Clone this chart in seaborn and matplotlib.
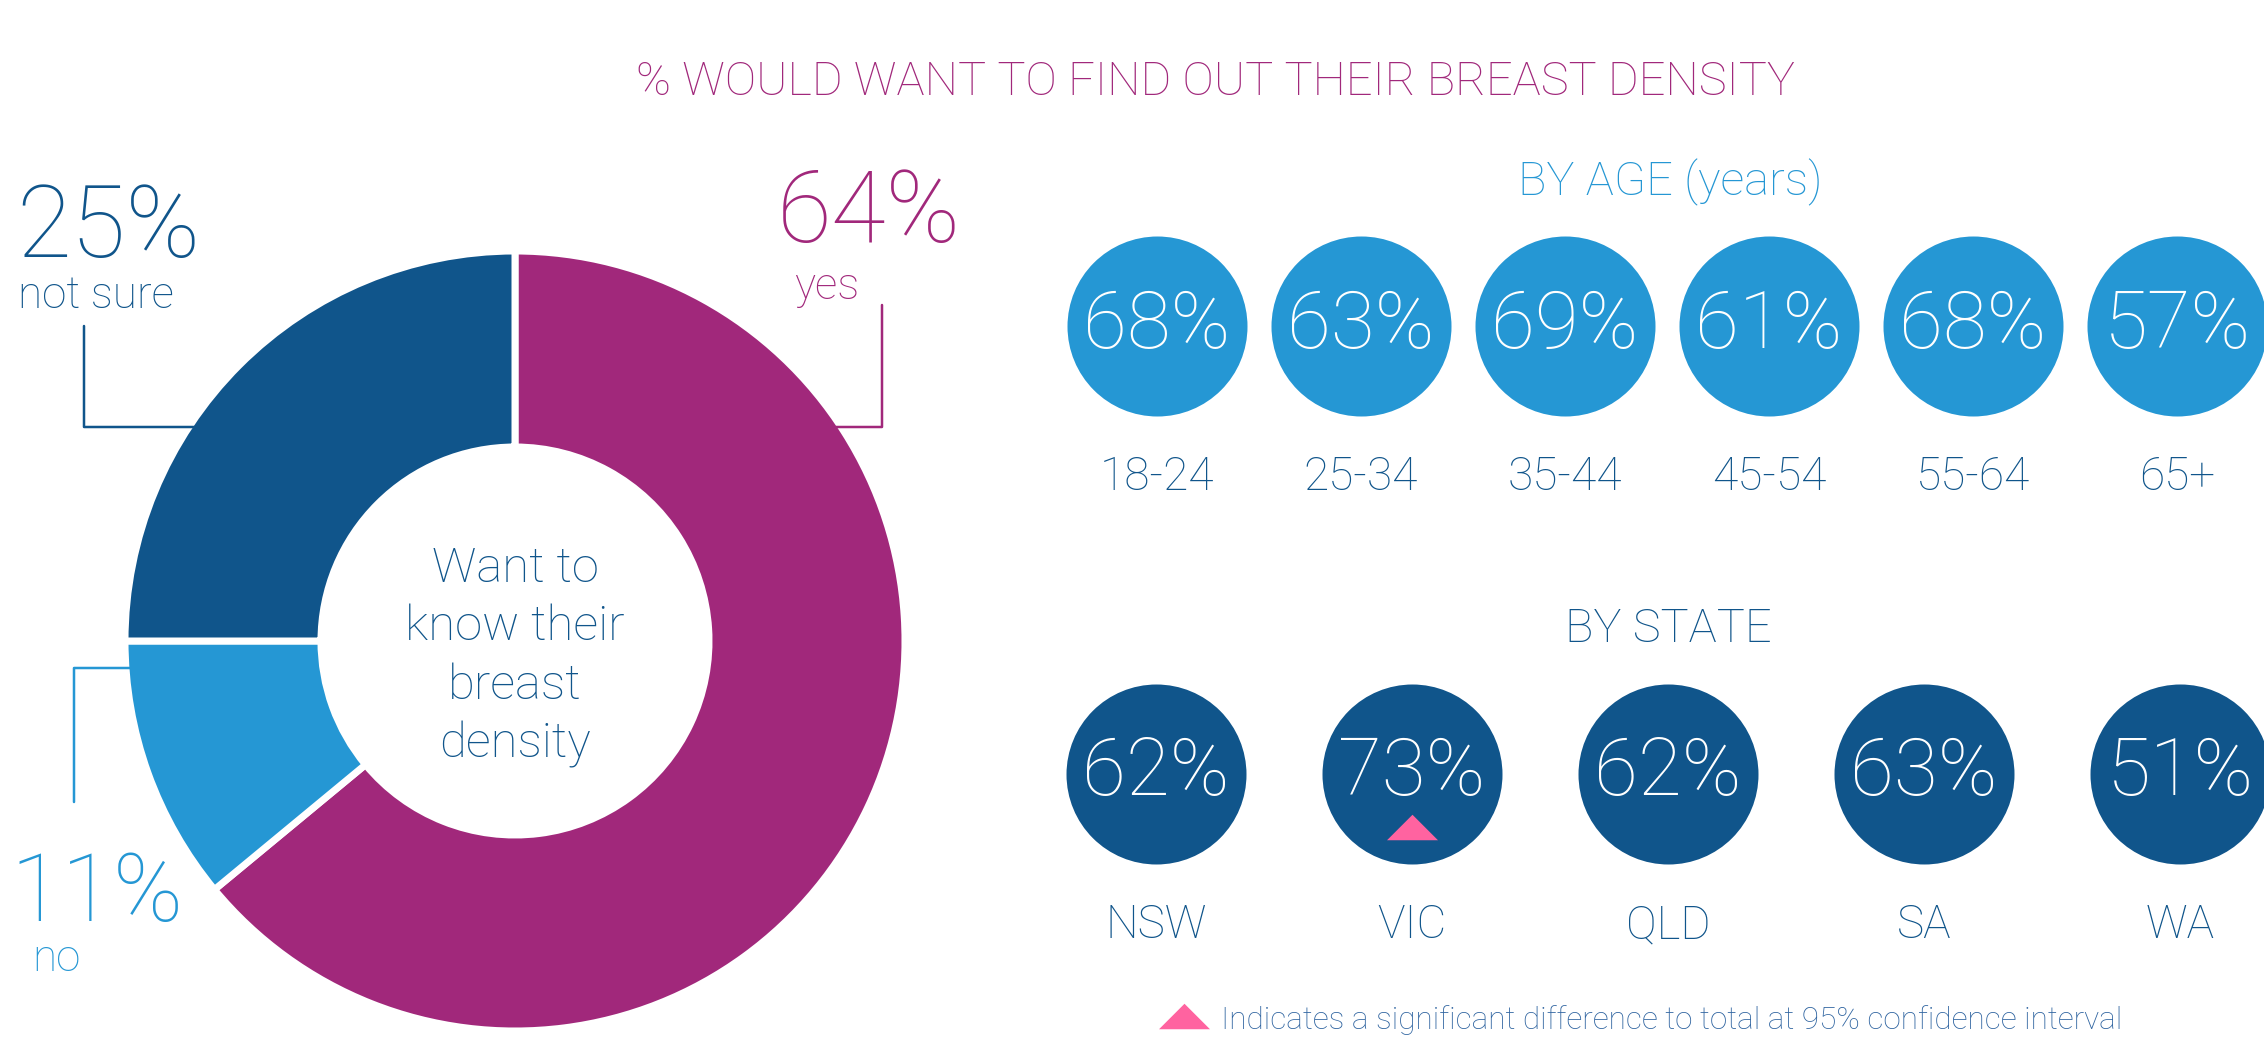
"""
Breast density infographic: donut of overall answers plus bubbles by age and state.
"""

import pandas as pd
import numpy as np
import matplotlib
matplotlib.use("Agg")
import matplotlib.pyplot as plt
import seaborn as sns
import warnings

warnings.filterwarnings("ignore")

sns.set_theme(style="white")
plt.rcParams['font.family'] = ['Roboto', 'DejaVu Sans']

# ---- data ----
overall_labels = ['yes', 'no', 'not sure']
overall_values = [64, 11, 25]

age_groups = ['18-24', '25-34', '35-44', '45-54', '55-64', '65+']
age_values = [68, 63, 69, 61, 68, 57]

states = ['NSW', 'VIC', 'QLD', 'SA', 'WA']
state_values = [62, 73, 62, 63, 51]
state_significant = [False, True, False, False, False]

# ---- styling ----
MAGENTA = '#A1287B'
DARK_BLUE = '#10558B'
LIGHT_BLUE = '#2597D4'
PINK = '#FF63A0'
NOTE_BLUE = '#2F64A0'
slice_colors = {'yes': MAGENTA, 'no': LIGHT_BLUE, 'not sure': DARK_BLUE}

W, H = 2264, 1063
DPI = 100
PX = 72 / DPI  # points per pixel
FW = 'light'

fig = plt.figure(figsize=(W / DPI, H / DPI), dpi=DPI)
ax = fig.add_axes([0, 0, 1, 1])

# ---- donut ----
# y axis is flipped later, so start at -90 and go counter-clockwise in data
# space to get a clockwise donut starting at 12 o'clock on screen
cx, cy, R, ring = 515, 641, 390, 196
ax.pie(overall_values,
       colors=[slice_colors[l] for l in overall_labels],
       startangle=-90, counterclock=True,
       center=(cx, cy), radius=R, frame=True,
       wedgeprops=dict(width=ring, edgecolor='white', linewidth=7 * PX))

ax.set_xlim(0, W)
ax.set_ylim(H, 0)
ax.set_axis_off()

# leader lines
lw = 2.5 * PX
ax.plot([84, 84, 196], [326, 427, 427], color=DARK_BLUE, lw=lw)
ax.plot([882, 882, 836], [305, 427, 427], color=MAGENTA, lw=lw)
ax.plot([130, 74, 74], [668, 668, 802], color=LIGHT_BLUE, lw=lw)

big = 100 * PX
small = 44 * PX
pct = dict(zip(overall_labels, overall_values))
ax.text(16, 257, f"{pct['not sure']}%", fontsize=big, color=DARK_BLUE,
        fontweight=FW, va='baseline', ha='left')
ax.text(18, 308, 'not sure', fontsize=small, color=DARK_BLUE,
        fontweight=FW, va='baseline', ha='left')
ax.text(777, 242, f"{pct['yes']}%", fontsize=big, color=MAGENTA,
        fontweight=FW, va='baseline', ha='left')
ax.text(794, 299, 'yes', fontsize=small, color=MAGENTA,
        fontweight=FW, va='baseline', ha='left')
ax.text(10, 921, f"{pct['no']}%", fontsize=94 * PX, color=LIGHT_BLUE,
        fontweight=FW, va='baseline', ha='left')
ax.text(32, 971, 'no', fontsize=small, color=LIGHT_BLUE,
        fontweight=FW, va='baseline', ha='left')

center_lines = ['Want to', 'know their', 'breast', 'density']
for i, line in enumerate(center_lines):
    ax.text(cx, 582 + i * 58.5, line, fontsize=49 * PX, color=DARK_BLUE,
            fontweight=FW, ha='center', va='baseline')

# ---- title ----
ax.text(1216, 95, '% WOULD WANT TO FIND OUT THEIR BREAST DENSITY',
        fontsize=47 * PX, color=MAGENTA, fontweight=FW,
        ha='center', va='baseline')

# ---- by age ----
ax.text(1670, 195, 'BY AGE (years)', fontsize=47 * PX, color=LIGHT_BLUE,
        fontweight=FW, ha='center', va='baseline')

bubble_s = (180 * PX) ** 2
age_df = pd.DataFrame({'group': age_groups, 'value': age_values})
age_df['x'] = 1157 + np.arange(len(age_df)) * 204
age_df['y'] = 326
sns.scatterplot(data=age_df, x='x', y='y', s=bubble_s, color=LIGHT_BLUE,
                linewidth=0, ax=ax, legend=False, clip_on=False)
for _, row in age_df.iterrows():
    ax.text(row['x'], 348, f"{row['value']}%", fontsize=80 * PX,
            color='white', fontweight=FW, ha='center', va='baseline')
    ax.text(row['x'], 490, row['group'], fontsize=46 * PX,
            color=DARK_BLUE, fontweight=FW, ha='center', va='baseline')

# ---- by state ----
ax.text(1668, 642, 'BY STATE', fontsize=47 * PX, color=DARK_BLUE,
        fontweight=FW, ha='center', va='baseline')

state_df = pd.DataFrame({'state': states, 'value': state_values,
                         'sig': state_significant})
state_df['x'] = 1156 + np.arange(len(state_df)) * 256
state_df['y'] = 774
sns.scatterplot(data=state_df, x='x', y='y', s=bubble_s, color=DARK_BLUE,
                linewidth=0, ax=ax, legend=False, clip_on=False)
for _, row in state_df.iterrows():
    ax.text(row['x'], 795, f"{row['value']}%", fontsize=80 * PX,
            color='white', fontweight=FW, ha='center', va='baseline')
    ax.text(row['x'], 938, row['state'], fontsize=46 * PX,
            color=DARK_BLUE, fontweight=FW, ha='center', va='baseline')

# significance markers (flat upward triangle, marker space is y-up)
tri = [(-1, -0.5), (1, -0.5), (0, 0.5), (-1, -0.5)]
sig_df = state_df[state_df['sig']].copy()
sig_df['y'] = 827
sns.scatterplot(data=sig_df, x='x', y='y', marker=tri, s=(51 * PX) ** 2,
                color=PINK, linewidth=0, ax=ax, legend=False)

# footnote
ax.scatter([1184], [1016], marker=tri, s=(51 * PX) ** 2, color=PINK,
           linewidths=0)
ax.text(1221, 1029,
        'Indicates a significant difference to total at 95% confidence interval',
        fontsize=31.5 * PX, color=NOTE_BLUE, fontweight=FW,
        ha='left', va='baseline')

ax.set_xlim(0, W)
ax.set_ylim(H, 0)

fig.savefig('out.png', dpi=DPI, facecolor='white')
plt.close(fig)
